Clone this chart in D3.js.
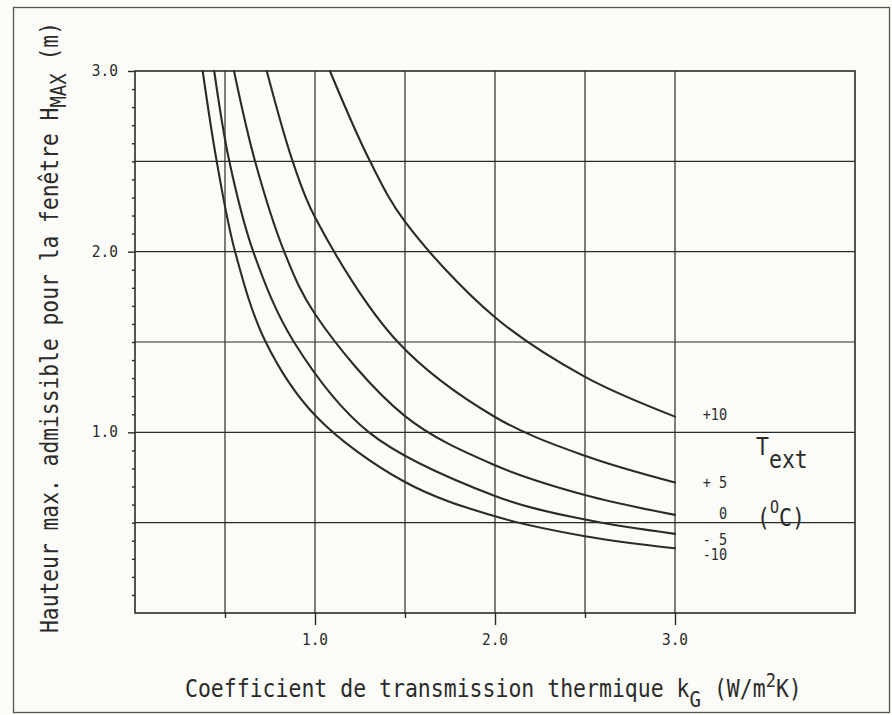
<!DOCTYPE html>
<html>
<head>
<meta charset="utf-8">
<script src="https://cdn.jsdelivr.net/npm/d3@7"></script>
<style>
  html, body { margin: 0; padding: 0; background: #fbfbf7; }
  svg { display: block; }
  text { font-family: "DejaVu Sans Mono", "Liberation Mono", monospace; fill: #2b2b2b; }
</style>
</head>
<body>
<svg id="chart" width="892" height="715"></svg>
<script>
// ---------- DATA ----------
const xDomain = [0, 4.0];
const yDomain = [0, 3.0];
const xTickLabels = [1.0, 2.0, 3.0];
const xHalfTicks = [0.5, 1.5, 2.5];
const yTickLabels = [1.0, 2.0, 3.0];
const xGrid = [0.5, 1.0, 1.5, 2.0, 2.5, 3.0];
const yGrid = [0.5, 1.0, 1.5, 2.0, 2.5];
const yMinorTicks = [0.1,0.2,0.3,0.4,0.5,0.6,0.7,0.8,0.9,1.1,1.2,1.3,1.4,1.5,1.6,1.7,1.8,1.9,
                     2.1,2.2,2.3,2.4,2.5,2.6,2.7,2.8,2.9];

// series: [k_G (W/m2K), H_max (m)]
const tempLabels = ["+10", "+ 5", "0", "- 5", "-10"];
const seriesPlus10 = [[1.083,3.0],[1.306,2.5],[1.5,2.166],[2.0,1.637],[2.5,1.307],[3.0,1.087]];
const seriesPlus5  = [[0.732,3.0],[0.876,2.5],[1.0,2.19],[1.46,1.5],[2.0,1.085],[2.5,0.87],[3.0,0.722]];
const seriesZero   = [[0.55,3.0],[0.667,2.5],[0.829,2.0],[1.0,1.655],[1.5,1.09],[2.0,0.818],[2.5,0.653],[3.0,0.543]];
const seriesMinus5 = [[0.44,3.0],[0.524,2.5],[0.657,2.0],[0.883,1.5],[1.30,1.0],[2.0,0.648],[2.5,0.517],[3.0,0.438]];
const seriesMinus10= [[0.376,3.0],[0.454,2.5],[0.556,2.0],[0.726,1.5],[1.0,1.095],[1.5,0.725],[2.0,0.535],[2.5,0.425],[3.0,0.358]];
const allSeries = [seriesPlus10, seriesPlus5, seriesZero, seriesMinus5, seriesMinus10];

// ---------- DRAWING ----------
const svg = d3.select("#chart");
const ink = "#2b2b2b";
const SY = 1.15; // vertical stretch of the plotter font

svg.append("rect").attr("x", 0).attr("y", 0).attr("width", 892).attr("height", 715).attr("fill", "#fbfbf7");
// outer frame
svg.append("rect").attr("x", 13.5).attr("y", 7.5).attr("width", 876).attr("height", 705)
  .attr("fill", "none").attr("stroke", "#555").attr("stroke-width", 1.3);

const x = d3.scaleLinear().domain(xDomain).range([135, 855]);
const y = d3.scaleLinear().domain(yDomain).range([613, 71]);

const g = svg.append("g");

// grid
g.selectAll(".gx").data(xGrid).join("line")
  .attr("x1", d => x(d)).attr("x2", d => x(d)).attr("y1", y(0)).attr("y2", y(3))
  .attr("stroke", ink).attr("stroke-width", 1.2);
g.selectAll(".gy").data(yGrid).join("line")
  .attr("x1", x(0)).attr("x2", x(4)).attr("y1", d => y(d)).attr("y2", d => y(d))
  .attr("stroke", ink).attr("stroke-width", 1.2);

// axes ticks via d3.axis
const axX = g.append("g").attr("transform", `translate(0,${y(0)})`)
  .call(d3.axisBottom(x).tickValues(xTickLabels).tickSize(12).tickFormat(""));
const axXh = g.append("g").attr("transform", `translate(0,${y(0)})`)
  .call(d3.axisBottom(x).tickValues(xHalfTicks).tickSize(5).tickFormat(""));
const axY = g.append("g").attr("transform", `translate(${x(0)},0)`)
  .call(d3.axisLeft(y).tickValues(yTickLabels).tickSize(7).tickFormat(""));
const axYm = g.append("g").attr("transform", `translate(${x(0)},0)`)
  .call(d3.axisLeft(y).tickValues(yMinorTicks).tickSize(3).tickFormat(""));
[axX, axXh, axY, axYm].forEach(a => {
  a.select(".domain").remove();
  a.selectAll("line").attr("stroke", ink).attr("stroke-width", 1.4);
});

// plot frame
g.append("rect").attr("x", x(0)).attr("y", y(3)).attr("width", x(4) - x(0)).attr("height", y(0) - y(3))
  .attr("fill", "none").attr("stroke", ink).attr("stroke-width", 1.6);

// curves
const line = d3.line().x(d => x(d[0])).y(d => y(d[1])).curve(d3.curveCatmullRom.alpha(0.5));
g.selectAll(".curve").data(allSeries).join("path")
  .attr("d", line).attr("fill", "none").attr("stroke", ink).attr("stroke-width", 2.1)
  .attr("stroke-linecap", "round");

// text helper (stretched vertically)
function stext(px, py, rot, size, anchor) {
  const grp = svg.append("g").attr("transform", `translate(${px},${py}) rotate(${rot}) scale(1,${SY})`);
  return grp.append("text").attr("x", 0).attr("y", 0).attr("font-size", size).attr("text-anchor", anchor);
}

// tick labels
xTickLabels.forEach(v => stext(x(v), 645, 0, 14.5, "middle").text(d3.format(".1f")(v)));
yTickLabels.forEach(v => stext(118, y(v) + 5, 0, 14.5, "end").text(d3.format(".1f")(v)));

// series labels at right end
const labelDy = [3, 5, 4, 11, 12];
allSeries.forEach((s, i) => {
  const last = s[s.length - 1];
  stext(727, y(last[1]) + labelDy[i], 0, 13.5, "end").text(tempLabels[i]);
});

// T_ext
const t1 = stext(756, 455, 0, 21.5, "start");
t1.append("tspan").text("T");
t1.append("tspan").attr("dy", 11.5).text("ext");
// (°C)
const t2 = stext(757, 526, 0, 21.5, "start");
t2.append("tspan").text("(");
t2.append("tspan").attr("font-size", 15).attr("dy", -11).text("O");
t2.append("tspan").attr("dy", 11).text("C)");

// x title
const xt = stext(185, 697, 0, 21.5, "start");
xt.append("tspan").text("Coefficient de transmission thermique k");
xt.append("tspan").attr("font-size", 19).attr("dy", 9).text("G");
xt.append("tspan").attr("dy", -9).text(" (W/m");
xt.append("tspan").attr("font-size", 17).attr("dy", -9).text("2");
xt.append("tspan").attr("dy", 9).text("K)");

// y title
const yt = stext(58, 633, -90, 21.3, "start");
yt.append("tspan").text("Hauteur max. admissible pour la fenêtre H");
yt.append("tspan").attr("font-size", 19).attr("dy", 7).text("MAX");
yt.append("tspan").attr("dy", -7).text(" (m)");
</script>
</body>
</html>
